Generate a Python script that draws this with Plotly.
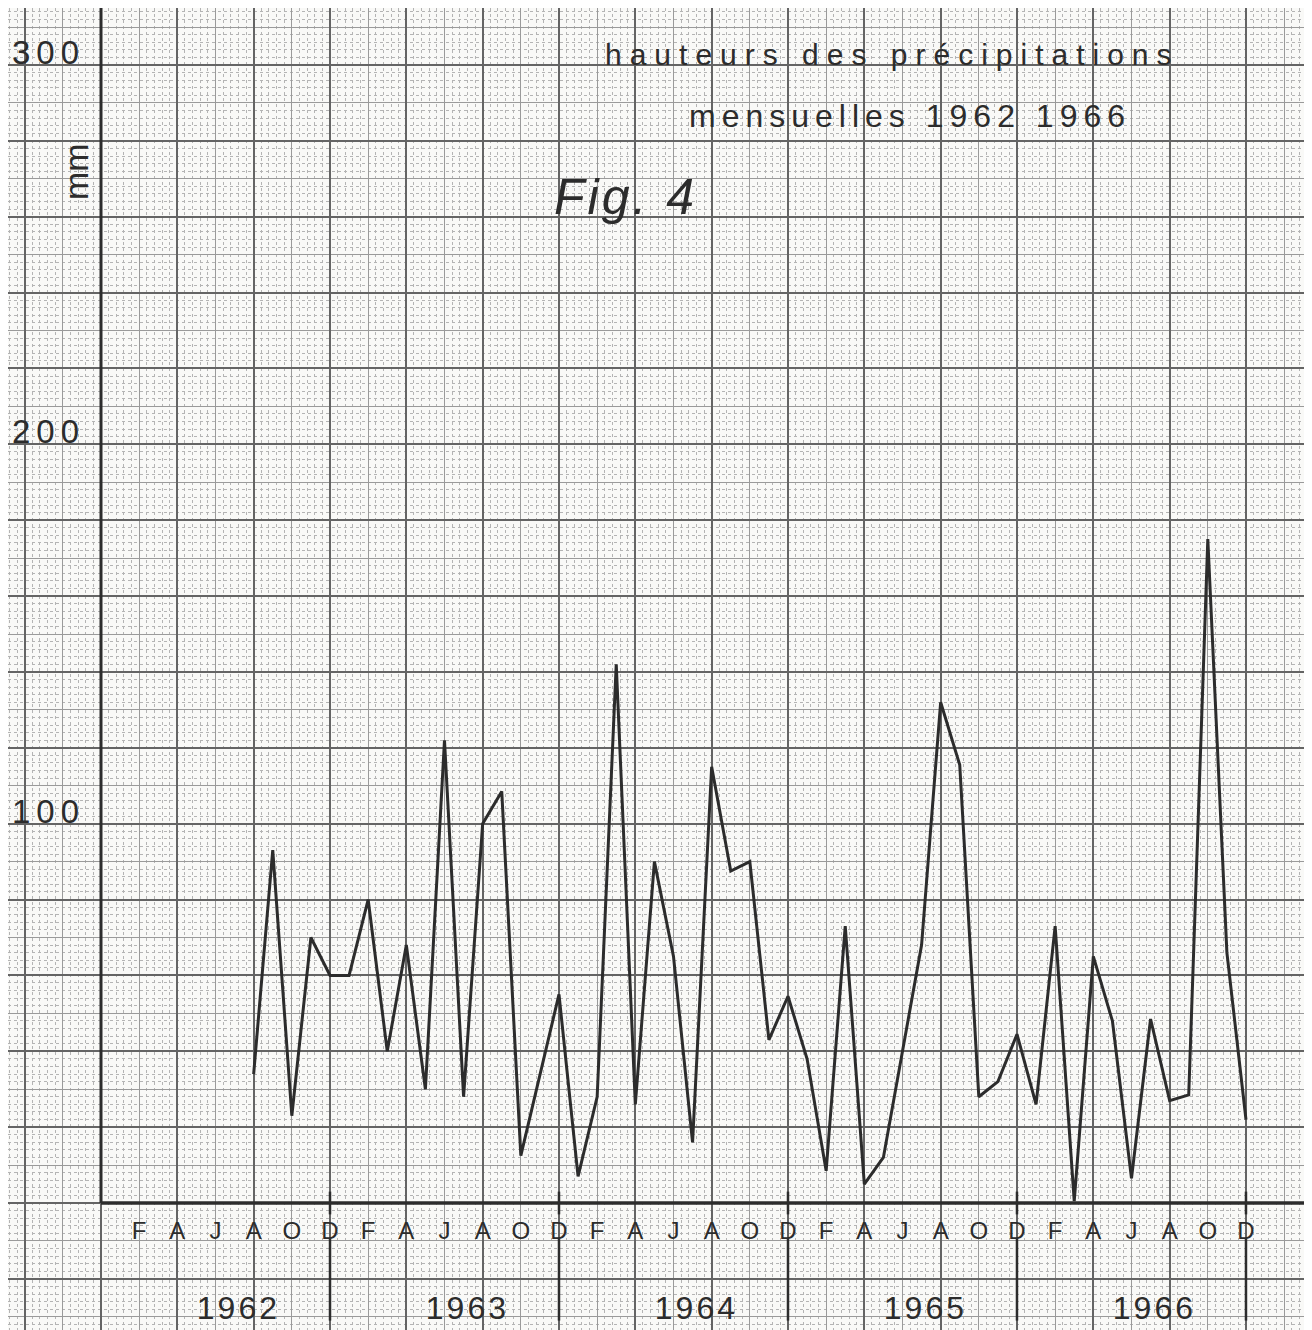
import plotly.graph_objects as go
import pandas as pd

# ---------------- data ----------------
first_month = "1962-08"
last_month = "1966-12"
rain_mm = [
    34, 93, 23, 70, 60,                                          # 1962 Aug-Dec
    60, 80, 40, 68, 30, 122, 28, 100, 108.5, 12.5, 34, 55,       # 1963
    7, 28, 142, 26, 90, 65, 16, 115, 87.5, 90, 43, 54.5,         # 1964
    38, 8.5, 73, 5, 12, 40, 68, 132, 115.5, 28, 32, 44.5,        # 1965
    26, 73, 0.5, 65, 48, 6.5, 48.5, 27, 28.5, 175, 66, 22,       # 1966
]
years = [1962, 1963, 1964, 1965, 1966]
month_letters = ["F", "A", "J", "A", "O", "D"]   # every second month
y_tick_values = [100, 200, 300]
title_line1 = "hauteurs des précipitations"
title_line2 = "mensuelles 1962 1966"
fig_label = "Fig. 4"
unit_label = "mm"

# month index: 0 = December 1961 (position of the vertical axis)
periods = pd.period_range(first_month, last_month, freq="M")
month_index = [(p.year - 1962) * 12 + p.month for p in periods]

month_tick_vals = [(y - 1962) * 12 + m for y in years for m in range(2, 13, 2)]
month_tick_text = month_letters * len(years)
year_tick_vals = [(y - 1962) * 12 + 7.2 for y in years]
year_bounds = [(y - 1962) * 12 + 12 for y in years]

# ---------------- page geometry ----------------
# the page body has an 8px margin, so the figure is 8px smaller than the window
W, H = 1304, 1322
PX_MONTH = 19.083
PX_MM = 3.7933
X0_PX, Y0_PX = 93, 1195        # figure pixels of (month 0, 0 mm)
X_RANGE = [-X0_PX / PX_MONTH, (W - X0_PX) / PX_MONTH]
Y_RANGE = [-(H - Y0_PX) / PX_MM, Y0_PX / PX_MM]
y0_paper = (0 - Y_RANGE[0]) / (Y_RANGE[1] - Y_RANGE[0])

INK = "#2c2c2c"
PAPER = "#f9f9f7"
FONT = "Liberation Sans, Arial, sans-serif"

fig = go.Figure()

# data line
fig.add_trace(go.Scatter(
    x=month_index, y=rain_mm, mode="lines",
    line=dict(color=INK, width=3),
    showlegend=False, hoverinfo="x+y",
))
# helper (empty) traces so the overlay axes are drawn
fig.add_trace(go.Scatter(x=[], y=[], xaxis="x2", yaxis="y2", showlegend=False))
fig.add_trace(go.Scatter(x=[], y=[], xaxis="x3", yaxis="y", showlegend=False))
fig.add_trace(go.Scatter(x=[], y=[], xaxis="x4", yaxis="y", showlegend=False))

fine = dict(showgrid=True, gridcolor="#b4b4b4", griddash="dot", gridwidth=1)

fig.update_layout(
    width=W, height=H,
    margin=dict(l=0, r=0, t=0, b=0),
    paper_bgcolor=PAPER, plot_bgcolor=PAPER,
    showlegend=False,
    font=dict(family=FONT, color=INK),
    xaxis=dict(
        range=X_RANGE, domain=[0, 1], tick0=0, dtick=2,
        showgrid=True, gridcolor="#9a9a9a", gridwidth=1,
        minor=dict(tick0=0, dtick=0.4, **fine),
        showticklabels=False, zeroline=False, showline=False, ticks="",
        fixedrange=True,
    ),
    yaxis=dict(
        range=Y_RANGE, domain=[0, 1], tick0=0, dtick=10,
        showgrid=True, gridcolor="#9a9a9a", gridwidth=1,
        minor=dict(tick0=0, dtick=2, **fine),
        showticklabels=False, zeroline=False, showline=False, ticks="",
        fixedrange=True,
    ),
    xaxis2=dict(
        overlaying="x", anchor="y2", range=X_RANGE, tick0=0, dtick=4,
        showgrid=True, gridcolor="#646464", gridwidth=1.6,
        showticklabels=False, zeroline=False, showline=False, ticks="",
    ),
    yaxis2=dict(
        overlaying="y", anchor="x2", range=Y_RANGE, tick0=0, dtick=20,
        showgrid=True, gridcolor="#646464", gridwidth=1.6,
        showticklabels=False, zeroline=False, showline=False, ticks="",
    ),
    xaxis3=dict(
        overlaying="x", anchor="free", position=y0_paper, range=X_RANGE,
        tickmode="array", tickvals=month_tick_vals, ticktext=month_tick_text,
        ticks="", showgrid=False, zeroline=False, showline=False,
        tickfont=dict(family=FONT, size=24, color=INK),
        ticklabelstandoff=11,
    ),
    xaxis4=dict(
        overlaying="x", anchor="free", position=(H - 1274) / H, range=X_RANGE,
        tickmode="array", tickvals=year_tick_vals,
        ticktext=[f'<span style="letter-spacing:3px">{y}</span>' for y in years],
        ticks="", showgrid=False, zeroline=False, showline=False,
        tickfont=dict(family=FONT, size=32, color=INK),
        ticklabelstandoff=4,
    ),
)

# axis lines
shapes = [
    dict(type="line", xref="x", yref="y", x0=0, x1=0, y0=0, y1=315,
         line=dict(color=INK, width=3)),
    dict(type="line", xref="x", yref="y", x0=0, x1=63.1, y0=0, y1=0,
         line=dict(color=INK, width=3.5)),
]
for b in year_bounds:
    shapes.append(dict(type="line", xref="x", yref="y", x0=b, x1=b, y0=3, y1=-3,
                       line=dict(color=INK, width=2.5)))
    shapes.append(dict(type="line", xref="x", yref="y", x0=b, x1=b, y0=-9.5, y1=-31,
                       line=dict(color=INK, width=2.5)))
fig.update_layout(shapes=shapes)

ann = []
for v in y_tick_values:
    ann.append(dict(x=-4.75, y=v, xref="x", yref="y", xanchor="left", yanchor="bottom",
                    yshift=-8, showarrow=False,
                    text=f'<span style="letter-spacing:6px">{v}</span>',
                    font=dict(family=FONT, size=33, color=INK)))
ann.append(dict(x=41.5, y=300, xref="x", yref="y", xanchor="center", yanchor="bottom",
                yshift=-8, showarrow=False,
                text=f'<span style="letter-spacing:8px">{title_line1}</span>',
                font=dict(family=FONT, size=30, color=INK)))
ann.append(dict(x=42.4, y=283.4, xref="x", yref="y", xanchor="center", yanchor="bottom",
                yshift=-8, showarrow=False,
                text=f'<span style="letter-spacing:6px">{title_line2}</span>',
                font=dict(family=FONT, size=32, color=INK)))
ann.append(dict(x=27.5, y=260, xref="x", yref="y", xanchor="center", yanchor="bottom",
                yshift=-10, showarrow=False,
                text=f'<span style="letter-spacing:3px">{fig_label}</span>',
                font=dict(family=FONT, size=50, color=INK, style="italic")))
ann.append(dict(x=-1.31, y=271.8, xref="x", yref="y", xanchor="center", yanchor="middle",
                textangle=-90, showarrow=False, text=unit_label,
                font=dict(family=FONT, size=34, color=INK)))
fig.update_layout(annotations=ann)

fig.write_html("out.html")
